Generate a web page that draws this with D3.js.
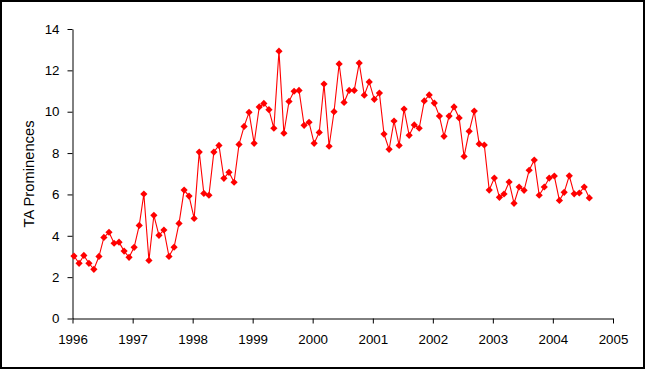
<!DOCTYPE html>
<html>
<head>
<meta charset="utf-8">
<script src="https://cdn.jsdelivr.net/npm/d3@7"></script>
<style>
  html, body { margin: 0; padding: 0; background: #fff; }
  svg { display: block; }
  text { font-family: Arial, "Liberation Sans", sans-serif; }
</style>
</head>
<body>
<svg id="chart" width="645" height="369"></svg>
<script>
// ---- data ----
const startYear = 1996;
const yearTicks = [1996, 1997, 1998, 1999, 2000, 2001, 2002, 2003, 2004, 2005];
const yTicks = [0, 2, 4, 6, 8, 10, 12, 14];
const yLabel = "TA Prominences";
const values1996 = [3.02, 2.67, 3.05, 2.67, 2.38, 3.0, 3.92, 4.17, 3.64, 3.69, 3.26, 2.96];
const values1997 = [3.44, 4.5, 6.02, 2.81, 4.99, 4.02, 4.28, 3.0, 3.45, 4.6, 6.21, 5.92];
const values1998 = [4.84, 8.05, 6.05, 5.96, 8.05, 8.37, 6.78, 7.07, 6.59, 8.42, 9.29, 9.97];
const values1999 = [8.47, 10.23, 10.4, 10.1, 9.2, 12.93, 8.96, 10.5, 10.99, 11.03, 9.34, 9.49];
const values2000 = [8.47, 9.0, 11.34, 8.33, 10.0, 12.31, 10.45, 11.03, 11.03, 12.35, 10.8, 11.44];
const values2001 = [10.6, 10.9, 8.92, 8.18, 9.55, 8.37, 10.13, 8.86, 9.36, 9.2, 10.52, 10.81];
const values2002 = [10.42, 9.79, 8.81, 9.79, 10.23, 9.7, 7.84, 9.05, 10.03, 8.44, 8.39, 6.21];
const values2003 = [6.79, 5.86, 6.02, 6.6, 5.57, 6.36, 6.2, 7.17, 7.66, 5.96, 6.36, 6.79];
const values2004 = [6.89, 5.71, 6.1, 6.9, 6.03, 6.07, 6.36, 5.83];

const series = [values1996, values1997, values1998, values1999, values2000,
                values2001, values2002, values2003, values2004];
const data = [];
series.forEach((arr, yi) => arr.forEach((v, m) => {
  data.push({ date: new Date(startYear + yi, m, 10), value: v });
}));

// ---- chart ----
const svg = d3.select("#chart");
const mLeft = 72.5, mRight = 613, mTop = 29, mBottom = 318.5;

const x = d3.scaleTime()
  .domain([new Date(1996, 0, 1), new Date(2005, 0, 1)])
  .range([mLeft, mRight]);
const y = d3.scaleLinear().domain([0, 14]).range([mBottom, mTop]);

svg.append("rect").attr("x", 0).attr("y", 0).attr("width", 645).attr("height", 369)
  .attr("fill", "#fff");

// y axis
const yAxis = svg.append("g").attr("transform", `translate(${mLeft},0)`)
  .call(d3.axisLeft(y).tickValues(yTicks).tickSize(5).tickPadding(8).tickSizeOuter(0));
// x axis
const xAxis = svg.append("g").attr("transform", `translate(0,${mBottom})`)
  .call(d3.axisBottom(x)
    .tickValues(yearTicks.map(yr => new Date(yr, 0, 1)))
    .tickFormat(d3.timeFormat("%Y"))
    .tickSize(5).tickPadding(11).tickSizeOuter(0));

[yAxis, xAxis].forEach(g => {
  g.selectAll("path.domain").attr("stroke", "#000").attr("stroke-width", 1);
  g.selectAll(".tick line").attr("stroke", "#000");
  g.selectAll(".tick text").attr("fill", "#000")
    .style("font-size", "13.33px").style("font-family", "Arial, 'Liberation Sans', sans-serif");
});

// y label
svg.append("text")
  .attr("transform", `translate(34,174) rotate(-90)`)
  .attr("text-anchor", "middle")
  .attr("textLength", 107)
  .attr("lengthAdjust", "spacingAndGlyphs")
  .style("font-size", "14px")
  .attr("fill", "#000")
  .text(yLabel);

// line
const line = d3.line().x(d => x(d.date)).y(d => y(d.value));
svg.append("path").datum(data)
  .attr("fill", "none").attr("stroke", "#ff0000").attr("stroke-width", 1.1)
  .attr("d", line);

// markers (diamonds)
const s = 3.6;
svg.append("g").selectAll("path").data(data).join("path")
  .attr("transform", d => `translate(${x(d.date)},${y(d.value)})`)
  .attr("d", `M0,${-s}L${s},0L0,${s}L${-s},0Z`)
  .attr("fill", "#ff0000");

// outer border
svg.append("rect").attr("x", 1).attr("y", 1).attr("width", 643).attr("height", 367)
  .attr("fill", "none").attr("stroke", "#000").attr("stroke-width", 2);
</script>
</body>
</html>
